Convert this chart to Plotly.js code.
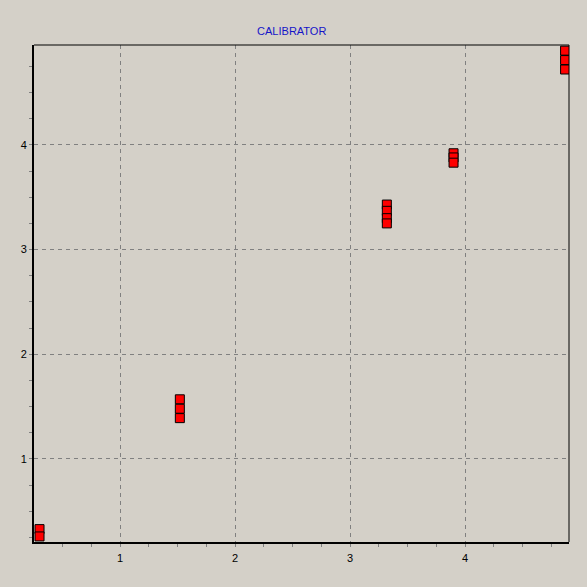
<!DOCTYPE html>
<html>
<head>
<meta charset="utf-8">
<script src="https://cdn.plot.ly/plotly-3.0.1.min.js"></script>
<style>html,body{margin:0;padding:0;background:#D4D0C8;}#chart{width:587px;height:587px;}</style>
</head>
<body>
<div id="chart"></div>
<script>
// Data
const xValues = [0.30, 0.30, 1.52, 1.52, 1.52, 3.32, 3.32, 3.32, 3.32, 3.90, 3.90, 3.90, 4.87, 4.87, 4.87];
const yValues = [0.33, 0.26, 1.57, 1.48, 1.39, 3.43, 3.37, 3.30, 3.25, 3.92, 3.88, 3.83, 4.90, 4.81, 4.72];
const xTicks = [1, 2, 3, 4];
const yTicks = [1, 2, 3, 4];
const chartTitle = 'CALIBRATOR';

const trace = {
  x: xValues,
  y: yValues,
  type: 'scatter',
  mode: 'markers',
  marker: {symbol: 'square', size: 9, color: '#FF0000', line: {color: '#000000', width: 1}},
  hoverinfo: 'x+y'
};

const bg = '#D4D0C8';
const layout = {
  width: 587, height: 587,
  paper_bgcolor: bg, plot_bgcolor: bg,
  margin: {l: 34, r: 18, t: 45, b: 45, pad: 0},
  showlegend: false,
  font: {family: 'Liberation Sans, Arial, sans-serif', size: 11, color: '#000000'},
  title: {text: chartTitle, font: {size: 11, color: '#1414C8', family: 'Liberation Sans, Arial, sans-serif'},
          x: 0.497, xanchor: 'center', y: 1 - 31/587, yref: 'container', yanchor: 'middle'},
  xaxis: {
    range: [0.252, 4.904], tickmode: 'array', tickvals: xTicks,
    showline: true, linecolor: '#000000', linewidth: 2,
    showgrid: true, gridcolor: '#808080', gridwidth: 1, griddash: '4px,4px',
    zeroline: false, ticks: 'outside', ticklen: 3, tickcolor: '#808080', tickwidth: 1,
    tickfont: {size: 11}, ticklabelstandoff: 2,
    minor: {dtick: 0.25, tick0: 0, ticks: 'outside', ticklen: 3, tickcolor: '#808080', showgrid: false}
  },
  yaxis: {
    range: [0.207, 4.954], tickmode: 'array', tickvals: yTicks,
    showline: true, linecolor: '#000000', linewidth: 2,
    showgrid: true, gridcolor: '#808080', gridwidth: 1, griddash: '4px,4px',
    zeroline: false, ticks: 'outside', ticklen: 3, tickcolor: '#808080', tickwidth: 1,
    tickfont: {size: 11},
    minor: {dtick: 0.25, tick0: 0, ticks: 'outside', ticklen: 3, tickcolor: '#808080', showgrid: false}
  },
  shapes: [
    {type: 'line', xref: 'paper', yref: 'paper', x0: 0, x1: 1, y0: 1, y1: 1, line: {color: '#000000', width: 1}},
    {type: 'line', xref: 'paper', yref: 'paper', x0: 1, x1: 1, y0: 0, y1: 1, line: {color: '#000000', width: 1}}
  ]
};

Plotly.newPlot('chart', [trace], layout, {displayModeBar: false, staticPlot: true});
</script>
</body>
</html>
